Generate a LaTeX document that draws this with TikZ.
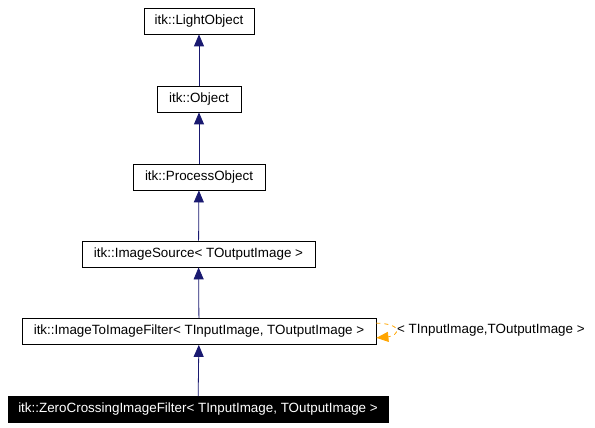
\documentclass[tikz,border=0pt]{standalone}
\usepackage{fontspec}
\setmainfont{Liberation Sans}
\usepackage{xcolor}
\usetikzlibrary{arrows.meta}
\usetikzlibrary{calc}
\definecolor{navyedge}{HTML}{191970}
\definecolor{loopedge}{HTML}{FFA500}

\begin{document}
\begin{tikzpicture}[x=1pt,y=1pt,
    cls/.style={draw=black,fill=white,line width=0.8pt,minimum height=26pt,inner sep=0pt,font=\fontsize{13.4}{15}\selectfont},
    this/.style={cls,fill=black,text=white},
    inherit/.style={draw=navyedge,line width=0.8pt,-{Triangle[length=12pt,width=10pt]}},
    tmpl/.style={draw=loopedge,line width=0.8pt,dash pattern=on 4pt off 4pt,-{Triangle[length=12pt,width=10pt]}}]
        \useasboundingbox (0,0) rectangle (595,-428);

        \node[cls,minimum width=110pt] (light) at (199,-21) {itk::LightObject};
        \node[cls,minimum width=84pt] (obj) at (199,-99) {itk::Object};
        \node[cls,minimum width=132pt] (proc) at (199,-177) {itk::ProcessObject};
        \node[cls,minimum width=233pt] (src) at (198.5,-254) {itk::ImageSource< TOutputImage >};
        \node[cls,minimum width=354pt] (itif) at (199,-331.5) {itk::ImageToImageFilter< TInputImage, TOutputImage >};
        \node[this,minimum width=380pt] (zc) at (198,-409.5) {itk::ZeroCrossingImageFilter< TInputImage, TOutputImage >};

        \draw[inherit] (obj) -- (light);
        \draw[inherit] (proc) -- (obj);
        \draw[inherit] (src) -- (proc);
        \draw[inherit] (itif) -- (src);
        \draw[inherit] (zc) -- (itif);

        \coordinate (loopout) at ($(itif.north east)+(0,-5)$);
        \coordinate (loopin) at ($(itif.south east)+(0,7)$);
        \draw[tmpl] (loopout) .. controls (405,-324) and (398,-336) .. (loopin);
        \node[anchor=west,font=\fontsize{13.4}{15}\selectfont,inner sep=0pt] (loopname) at (397,-330) {< TInputImage,TOutputImage >};
    \end{tikzpicture}
\end{document}
